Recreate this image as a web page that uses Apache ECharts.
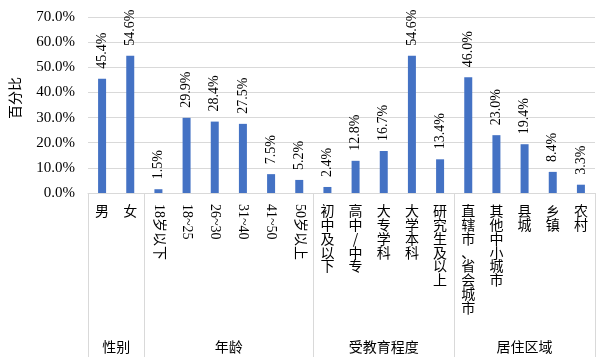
<!DOCTYPE html>
<html>
<head>
<meta charset="utf-8">
<script src="https://cdn.jsdelivr.net/npm/echarts@6/dist/echarts.min.js"></script>
<style>html,body{margin:0;padding:0;background:#fff;}#c{width:604px;height:360px;}</style>
</head>
<body>
<div id="c"></div>
<script>
const categories = ['男','女','18岁以下','18~25','26~30','31~40','41~50','50岁以上','初中及以下','高中/中专','大专学科','大学本科','研究生及以上','直辖市、省会城市','其他中小城市','县城','乡镇','农村'];
const values = [45.4,54.6,1.5,29.9,28.4,27.5,7.5,5.2,2.4,12.8,16.7,54.6,13.4,46.0,23.0,19.4,8.4,3.3];
const groups = ['性别','年龄','受教育程度','居住区域'];
const groupSizes = [2,6,5,5];
const yMin = 0, yMax = 70, yStep = 10;
const yName = '百分比';

const boundaries = [];
const groupCenters = {};
let acc = 0;
groupSizes.forEach((n, i) => {
  boundaries.push(acc);
  groupCenters[(acc + n / 2).toFixed(1)] = groups[i];
  acc += n;
});

const serif = '"Liberation Serif", "Times New Roman", "Noto Sans CJK SC", serif';
const cjk = '"Noto Sans CJK SC", "Liberation Serif", sans-serif';
const hasDigit = s => /\d/.test(s);

const chart = echarts.init(document.getElementById('c'), null, {renderer: 'canvas'});
chart.setOption({
  animation: false,
  grid: {left: 85, right: 9, top: 17, bottom: 167, containLabel: false},
  xAxis: [
    {
      type: 'category', data: categories, position: 'bottom',
      axisLine: {show: true, lineStyle: {color: '#d9d9d9', width: 1}},
      axisTick: {show: true, length: 164, lineStyle: {color: '#d9d9d9'},
        interval: (i) => boundaries.indexOf(i) >= 0},
      axisLabel: {interval: 0, margin: 11, color: '#000', fontFamily: cjk, fontSize: 14, lineHeight: 13.8,
        formatter: (v) => hasDigit(v) ? '' : v.split('').join('\n')},
      splitLine: {show: false}
    },
    {
      type: 'category', data: categories, position: 'bottom',
      axisLine: {show: false}, axisTick: {show: false},
      axisLabel: {interval: 0, margin: 11, rotate: -90, color: '#000', fontFamily: serif, fontSize: 14,
        formatter: (v) => hasDigit(v) ? v : ''},
      splitLine: {show: false}
    },
    {
      type: 'value', min: 0, max: categories.length, interval: 0.5, position: 'bottom', offset: 147,
      axisLine: {show: false}, axisTick: {show: false}, splitLine: {show: false},
      axisLabel: {margin: 0, color: '#000', fontFamily: cjk, fontSize: 14, showMinLabel: true, showMaxLabel: true,
        formatter: (v) => groupCenters[Number(v).toFixed(1)] || ''}
    }
  ],
  yAxis: {
    type: 'value', min: yMin, max: yMax, interval: yStep,
    name: yName, nameLocation: 'middle', nameGap: 66, nameRotate: 90,
    nameTextStyle: {fontFamily: cjk, fontSize: 14, color: '#000', padding: [0, 0, 0, 14]},
    axisLine: {show: false}, axisTick: {show: false},
    axisLabel: {margin: 13, color: '#000', fontFamily: serif, fontSize: 15,
      formatter: (v) => v.toFixed(1) + '%'},
    splitLine: {lineStyle: {color: '#d9d9d9', width: 1}}
  },
  series: [{
    type: 'bar', xAxisIndex: 0, data: values, barWidth: 8,
    itemStyle: {color: '#4472C4'},
    label: {show: true, position: 'top', rotate: 90, align: 'left', verticalAlign: 'middle', distance: 10,
      color: '#000', fontFamily: serif, fontSize: 14, formatter: (p) => p.value.toFixed(1) + '%'}
  }]
});
</script>
</body>
</html>
